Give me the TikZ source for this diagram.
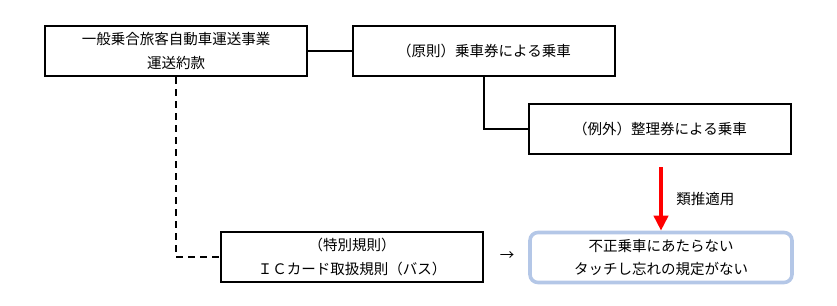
\documentclass[tikz,border=0pt]{standalone}
\usepackage{fontspec}
\setmainfont{Noto Sans CJK JP}
\usepackage{tikz}
\usetikzlibrary{arrows.meta, positioning, calc}

\definecolor{resblue}{HTML}{B4C7E7}

\begin{document}
\begin{tikzpicture}[
  x=1pt, y=-1pt,
  font=\fontsize{14.5}{23.5}\selectfont,
  rule/.style={rectangle, draw, minimum width=262pt, minimum height=50pt,
    align=center, line width=2.6pt, inner sep=0pt},
  res/.style={rule, draw=resblue, rounded corners=8pt, line width=3.6pt},
  lnk/.style={line width=2.6pt},
  infer/.style={-{Triangle[width=14pt,length=15pt]}, draw=red, line width=4pt}
]
\useasboundingbox (0,0) rectangle (837,305);
\node[rule] (yakkan) at (176,51)
  {一般乗合旅客自動車運送事業\\
   運送約款};
\node[rule] (gensoku) at (484,51) {（原則）乗車券による乗車};
\node[rule] (reigai) at (660,129) {（例外）整理券による乗車};
\node[rule] (tokubetsu) at (352,257)
  {（特別規則）\\
   ＩＣカード取扱規則（バス）};
\node[res] (kitei) at (661,257.5)
  {不正乗車にあたらない\\
   タッチし忘れの規定がない};
\node (ya) at (507,256) {→};
\coordinate (ruisui) at ($(reigai.south)+(1,12)$);

\draw[lnk] (yakkan.east) -- (gensoku.west);
\draw[lnk] (gensoku.south) |- (reigai.west);
\draw[lnk, dashed, dash pattern=on 7pt off 5pt] (yakkan.south) |- (tokubetsu.west);
\draw[infer] (ruisui) -- node[right, xshift=10pt]{類推適用} (kitei.north);
\end{tikzpicture}
\end{document}
